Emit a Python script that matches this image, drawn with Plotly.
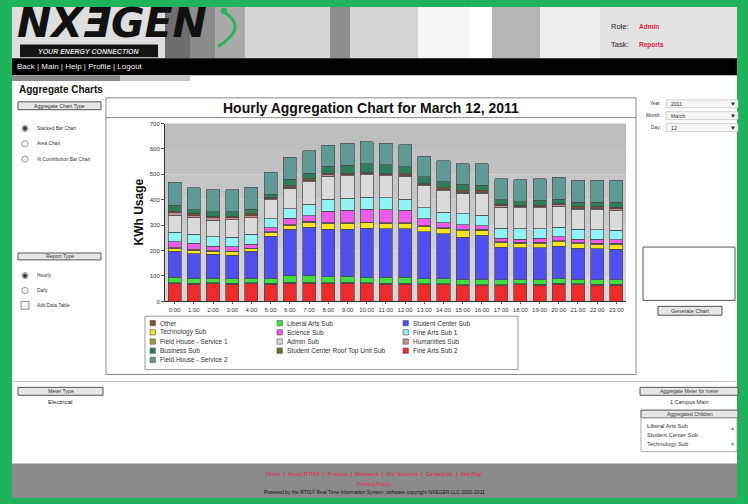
import plotly.graph_objects as go

W, H = 748, 504

hours = ["0:00", "1:00", "2:00", "3:00", "4:00", "5:00", "6:00", "7:00", "8:00", "9:00",
         "10:00", "11:00", "12:00", "13:00", "14:00", "15:00", "16:00", "17:00", "18:00",
         "19:00", "20:00", "21:00", "22:00", "23:00"]

# kWh per hour for each sub-meter (stack order bottom -> top)
fine_arts_sub_2 = [70, 68, 70, 68, 70, 68, 72, 72, 70, 72, 70, 68, 68, 65, 65, 62, 62, 62, 65, 64, 68, 65, 64, 64]
roof_top_unit   = [4, 4, 4, 4, 4, 4, 4, 4, 4, 4, 4, 4, 4, 4, 4, 4, 4, 4, 4, 4, 4, 4, 4, 4]
liberal_arts    = [21, 20, 18, 18, 18, 18, 24, 24, 23, 22, 22, 23, 23, 21, 21, 20, 22, 19, 17, 17, 18, 17, 17, 17]
student_center  = [103, 96, 93, 92, 106, 167, 183, 192, 186, 185, 191, 190, 190, 184, 176, 167, 173, 129, 125, 126, 128, 123, 122, 120]
technology      = [11, 14, 12, 13, 9, 15, 16, 20, 24, 24, 22, 22, 22, 21, 21, 26, 19, 18, 18, 18, 17, 18, 18, 20]
field_house_1   = [3, 3, 3, 3, 3, 3, 3, 3, 3, 3, 3, 3, 3, 3, 3, 3, 3, 3, 3, 3, 3, 3, 3, 3]
science         = [23, 23, 18, 17, 15, 15, 26, 23, 45, 48, 50, 50, 48, 27, 20, 20, 15, 13, 13, 16, 17, 15, 17, 14]
fine_arts_sub_1 = [37, 37, 37, 37, 40, 35, 37, 44, 48, 47, 48, 48, 45, 43, 40, 43, 42, 39, 40, 37, 37, 39, 37, 38]
admin           = [68, 67, 65, 70, 65, 75, 80, 88, 89, 90, 88, 87, 89, 87, 85, 80, 85, 83, 83, 83, 83, 76, 78, 78]
humanities      = [8, 8, 10, 8, 8, 5, 5, 7, 6, 5, 5, 5, 5, 5, 7, 5, 5, 6, 5, 5, 5, 6, 6, 6]
other           = [7, 6, 6, 6, 6, 5, 5, 5, 5, 5, 5, 5, 5, 5, 6, 6, 6, 6, 5, 5, 5, 6, 6, 6]
business        = [23, 14, 16, 16, 18, 12, 25, 23, 29, 30, 34, 33, 28, 25, 22, 26, 22, 18, 15, 20, 18, 18, 18, 20]
field_house_2   = [90, 88, 88, 88, 88, 86, 88, 88, 83, 87, 86, 85, 87, 82, 84, 80, 83, 82, 85, 85, 86, 86, 86, 86]

y_ticks = [0, 100, 200, 300, 400, 500, 600, 700]

series = [
    ("Fine Arts Sub 2", fine_arts_sub_2, "#F02A2A"),
    ("Student Center Roof Top Unit Sub", roof_top_unit, "#6E6A2A"),
    ("Liberal Arts Sub", liberal_arts, "#3EE03E"),
    ("Student Center Sub", student_center, "#5050F0"),
    ("Technology Sub", technology, "#F8E41C"),
    ("Field House - Service 1", field_house_1, "#A8983A"),
    ("Science Sub", science, "#EE5CEE"),
    ("Fine Arts Sub 1", fine_arts_sub_1, "#90F4F6"),
    ("Admin Sub", admin, "#DADADA"),
    ("Humanities Sub", humanities, "#C88C8C"),
    ("Other", other, "#8A4A2A"),
    ("Business Sub", business, "#2E7E5C"),
    ("Field House - Service 2", field_house_2, "#5F9A96"),
]
color_of = {n: c for n, _, c in series}

legend_columns = [
    ["Other", "Technology Sub", "Field House - Service 1", "Business Sub", "Field House - Service 2"],
    ["Liberal Arts Sub", "Science Sub", "Admin Sub", "Student Center Roof Top Unit Sub"],
    ["Student Center Sub", "Fine Arts Sub 1", "Humanities Sub", "Fine Arts Sub 2"],
]


def X(px):
    return px / W


def Y(py):
    return 1 - py / H


fig = go.Figure()
for name, vals, col in series:
    fig.add_trace(go.Bar(x=hours, y=vals, name=name, marker=dict(color=col, line=dict(color="#4a4a4a", width=0.7)),
                         showlegend=False))

shapes = []
ann = []


def rect(x0, y0, x1, y1, fill=None, line=None, lw=1, layer="below"):
    shapes.append(dict(type="rect", xref="paper", yref="paper", x0=X(x0), x1=X(x1), y0=Y(y1), y1=Y(y0),
                       fillcolor=fill if fill else "rgba(0,0,0,0)",
                       line=dict(color=line if line else "rgba(0,0,0,0)", width=lw if line else 0), layer=layer))


def circ(cx, cy, r, fill, line="#888"):
    shapes.append(dict(type="circle", xref="paper", yref="paper", x0=X(cx - r), x1=X(cx + r), y0=Y(cy + r), y1=Y(cy - r),
                       fillcolor=fill, line=dict(color=line, width=0.8), layer="above"))


def hline(x0, x1, y, color="#999", w=1):
    shapes.append(dict(type="line", xref="paper", yref="paper", x0=X(x0), x1=X(x1), y0=Y(y), y1=Y(y),
                       line=dict(color=color, width=w), layer="below"))


def txt(x, y, s, size=7, color="#222", xanchor="left", family="Liberation Sans"):
    ann.append(dict(x=X(x), y=Y(y), xref="paper", yref="paper", text=s, showarrow=False, xanchor=xanchor,
                    yanchor="middle", font=dict(size=size, color=color, family=family)))


# page body
rect(12, 4, 737, 501, fill="white")
# header background with stripes
rect(12, 4, 737, 56, fill="#cfcfcf")
for x0, x1, c in [(12, 165, "#dedede"), (165, 190, "#6e6e6e"), (190, 215, "#8c8c8c"), (215, 245, "#aaaaaa"),
                  (245, 330, "#d6d6d6"), (330, 350, "#8e8e8e"), (350, 418, "#d4d4d4"), (418, 470, "#f6f6f6"),
                  (470, 492, "#ffffff"), (492, 540, "#b4b4b4"), (540, 600, "#eeeeee"), (600, 737, "#e2e2e2")]:
    rect(x0, 4, x1, 56, fill=c)
rect(20, 42, 158, 55, fill="#151515")
# nav bar
rect(12, 56, 737, 73, fill="#000000")
rect(12, 73, 120, 79, fill="#8a8a8a")
rect(120, 73, 190, 79, fill="#c6c6c6")
# chart frame
rect(106, 96, 636, 376, fill="white", line="#8a8a8a")
hline(106, 636, 116, "#8a8a8a")
# plot area gradient (in plot domain)
grays = ["#bdbdbd", "#c1c1c1", "#c5c5c5", "#c9c9c9", "#cdcdcd", "#d1d1d1", "#d5d5d5"]
n = len(grays)
for i, g in enumerate(grays):
    shapes.append(dict(type="rect", xref="x domain", yref="y domain", x0=0, x1=1,
                       y0=1 - (i + 1) / n, y1=1 - i / n, fillcolor=g, line=dict(width=0), layer="below"))
# legend box
rect(145, 317, 518, 371, fill="white", line="#9a9a9a")
# separator and footer
hline(12, 737, 383, "#c8c8c8")
rect(12, 466, 737, 501, fill="#8a8a8a")

# header texts
txt(15, 20, "<b><i>NXƎGEN</i></b>", size=41, color="#111", family="DejaVu Sans")
shapes.append(dict(type="path", xref="paper", yref="paper",
                   path="M %f %f Q %f %f %f %f" % (X(222), Y(8), X(250), Y(24), X(218), Y(44)),
                   line=dict(color="#2fb35a", width=3), layer="above"))
circ(224, 8, 3, "#2fb35a", line="#2fb35a")
txt(89, 49.5, "<b><i>YOUR ENERGY CONNECTION</i></b>", size=7, color="#dddddd", xanchor="center")
txt(609, 24, "Role:", size=7.5, color="#222")
txt(637, 24, "<b>Admin</b>", size=6.5, color="#e0204a")
txt(609, 42, "Task:", size=7.5, color="#222")
txt(637, 42, "<b>Reports</b>", size=6.5, color="#e0204a")
txt(15, 64, "Back | Main | Help | Profile | Logout", size=8, color="#f0f0f0")
txt(17, 88, "<b>Aggregate Charts</b>", size=10, color="#111")

# chart title and axis title
txt(371, 106, "<b>Hourly Aggregation Chart for March 12, 2011</b>", size=14, color="#111", xanchor="center")
ann.append(dict(x=X(139), y=Y(212), xref="paper", yref="paper", text="<b>KWh Usage</b>", showarrow=False,
                textangle=-90, xanchor="center", yanchor="middle",
                font=dict(size=12, color="#111", family="Liberation Sans")))

# manual legend
col_x = [150, 277, 403]
for ci, names in enumerate(legend_columns):
    for ri, nm in enumerate(names):
        cy = 324 + ri * 9.3
        cx = col_x[ci]
        rect(cx, cy - 2.7, cx + 5.4, cy + 2.7, fill=color_of[nm], line="#555", lw=0.6, layer="above")
        txt(cx + 8, cy, nm, size=6.5, color="#333")


# left panel
def button(x0, y0, x1, y1, label, size=5.2):
    rect(x0, y0, x1, y1, fill="#e6e6e6", line="#555", lw=1, layer="above")
    txt((x0 + x1) / 2, (y0 + y1) / 2, label, size=size, color="#333", xanchor="center")


button(18, 100, 101, 108, "Aggregate Chart Type")
for i, (lab, sel) in enumerate([("Stacked Bar Chart", True), ("Area Chart", False), ("% Contribution Bar Chart", False)]):
    cy = 127 + i * 15.5
    circ(25, cy, 3.2, "#f2f2f2")
    if sel:
        circ(25, cy, 1.8, "#333", line="#333")
    txt(35, cy, lab, size=4.8, color="#333")
button(18, 253, 101, 260, "Report Type")
for i, (lab, sel) in enumerate([("Hourly", True), ("Daily", False)]):
    cy = 276 + i * 15
    circ(25, cy, 3.2, "#f2f2f2")
    if sel:
        circ(25, cy, 1.8, "#333", line="#333")
    txt(35, cy, lab, size=4.8, color="#333")
rect(21, 302, 29, 310, fill="#f4f4f4", line="#777", lw=0.8, layer="above")
txt(35, 306, "Add Data Table", size=4.8, color="#333")

# right panel
for i, (lab, val) in enumerate([("Year:", "2011"), ("Month:", "March"), ("Day:", "12")]):
    cy = 102 + i * 12
    txt(663, cy, lab, size=4.8, color="#333", xanchor="right")
    rect(666, cy - 4, 738, cy + 4, fill="#f6f6f6", line="#bbb", lw=0.6, layer="above")
    txt(669, cy, val, size=5.2, color="#333")
    txt(733, cy, "▼", size=6, color="#222", xanchor="center")
rect(643, 247, 735, 301, fill="white", line="#555", lw=1, layer="above")
button(658, 307, 722, 316, "Generate Chart", size=5.5)

# lower panel
button(18, 389, 103, 397, "Meter Type")
txt(60, 404, "Electrical", size=6, color="#222", xanchor="center")
button(640, 389, 738, 397, "Aggregate Meter for meter", size=5)
txt(689, 404, "1 Campus Main", size=5.5, color="#333", xanchor="center")
button(641, 412, 738, 420, "Aggregated Children", size=5)
rect(641, 420, 737, 454, fill="white", line="#999", lw=0.8, layer="above")
for i, nm in enumerate(["Liberal Arts Sub", "Student Center Sub", "Technology Sub"]):
    txt(645, 428 + i * 9, nm, size=5.8, color="#333")
txt(732, 430, "▲", size=5, color="#777", xanchor="center")
txt(732, 446, "▼", size=5, color="#777", xanchor="center")

# footer
txt(374, 477, "Home  |  About RTIS®  |  Projects  |  Research  |  Our Services  |  Contact Us  |  Site Map",
    size=5.5, color="#e8204c", xanchor="center")
txt(374, 487, "Privacy Policy", size=5.5, color="#e8204c", xanchor="center")
txt(374, 495, "Powered by the RTIS® Real Time Information System, software copyright NXEGEN LLC 2000-2011",
    size=5, color="#111", xanchor="center")

fig.update_layout(
    width=W, height=H, margin=dict(l=0, r=0, t=0, b=0, pad=0),
    paper_bgcolor="#1fb35c", plot_bgcolor="rgba(0,0,0,0)",
    barmode="stack", bargap=0.32, showlegend=False,
    font=dict(family="Liberation Sans"),
    xaxis=dict(domain=[X(165), X(626)], showline=True, linecolor="#333", linewidth=1, ticks="outside",
               ticklen=2, tickcolor="#555", tickfont=dict(size=6, color="#333"), tickangle=0, showgrid=False),
    yaxis=dict(domain=[Y(302), Y(122)], range=[0, 700], tickvals=y_ticks, showline=True, linecolor="#333",
               linewidth=1, ticks="outside", ticklen=3, tickcolor="#555", tickfont=dict(size=6, color="#333"),
               showgrid=False, zeroline=False),
    shapes=shapes, annotations=ann,
)

fig.write_html("out.html", config={"displayModeBar": False},
               post_script="document.body.style.margin='0';document.body.style.overflow='hidden';")
